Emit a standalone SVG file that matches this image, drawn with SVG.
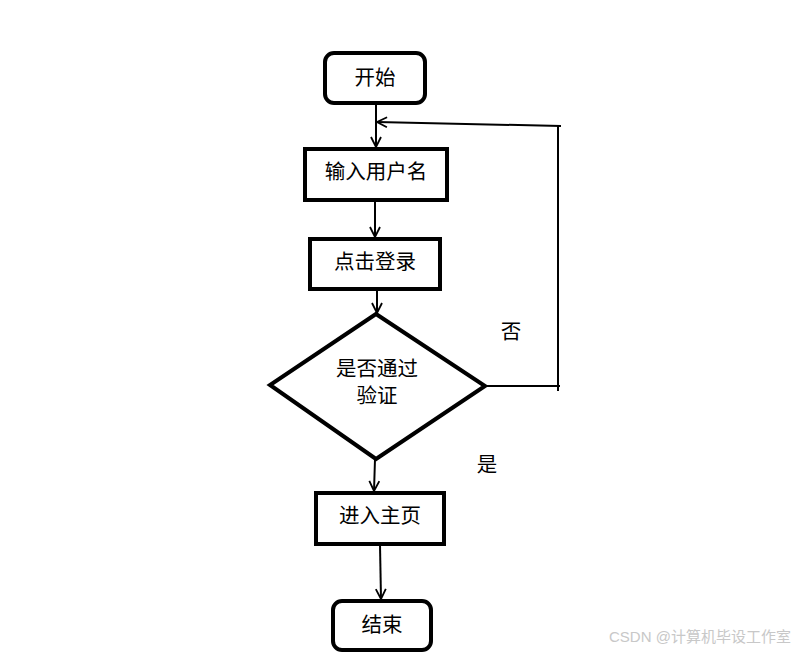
<svg xmlns="http://www.w3.org/2000/svg" width="801" height="653" viewBox="0 0 801 653">
<style>
.box{fill:#fff;stroke:#000;stroke-width:4}
.t{font-family:"Liberation Serif","Noto Sans CJK SC",serif;font-size:20.5px;fill:#000;text-anchor:middle}
.c{fill:none;stroke:#000;stroke-width:2}
.wm{font-family:"Liberation Sans","Noto Sans CJK SC",sans-serif;font-size:15px;fill:#c8c8c8}
</style>
<defs>
<marker id="a" viewBox="0 0 12 12" refX="11" refY="6" markerWidth="12" markerHeight="12" markerUnits="userSpaceOnUse" orient="auto">
<path d="M1,1 L11,6 L1,11" fill="none" stroke="#000" stroke-width="1.8"/>
</marker>
</defs>
<rect width="801" height="653" fill="#fff"/>
<g id="connectors">
<line class="c" x1="376" y1="103" x2="376" y2="147" marker-end="url(#a)"/>
<line class="c" x1="375" y1="201" x2="375" y2="237" marker-end="url(#a)"/>
<line class="c" x1="377" y1="290" x2="377" y2="313" marker-end="url(#a)"/>
<line class="c" x1="375" y1="459" x2="374" y2="491" marker-end="url(#a)"/>
<line class="c" x1="380" y1="545" x2="381" y2="599" marker-end="url(#a)"/>
<polyline class="c" points="485,386 560,386"/>
<line class="c" x1="558" y1="125" x2="558" y2="391"/>
<line class="c" x1="561" y1="126" x2="377" y2="122" marker-end="url(#a)"/>
<text class="t" x="511" y="339">否</text>
<text class="t" x="487" y="472">是</text>
</g>
<g id="start"><rect class="box" x="325" y="53" width="100" height="50" rx="9"/><text class="t" x="375" y="85">开始</text></g>
<g id="input"><rect class="box" x="305" y="149" width="142" height="51"/><text class="t" x="376" y="179">输入用户名</text></g>
<g id="login"><rect class="box" x="310" y="239" width="130" height="50"/><text class="t" x="375" y="269">点击登录</text></g>
<g id="check"><polygon class="box" points="376,314 485,386 376,459 270,385"/><text class="t" x="377" y="376">是否通过</text><text class="t" x="377" y="403">验证</text></g>
<g id="home"><rect class="box" x="316" y="493" width="128" height="51"/><text class="t" x="380" y="523">进入主页</text></g>
<g id="end"><rect class="box" x="333" y="601" width="98" height="49" rx="9"/><text class="t" x="382" y="632">结束</text></g>
<text class="wm" x="609" y="642">CSDN @计算机毕设工作室</text>
</svg>
